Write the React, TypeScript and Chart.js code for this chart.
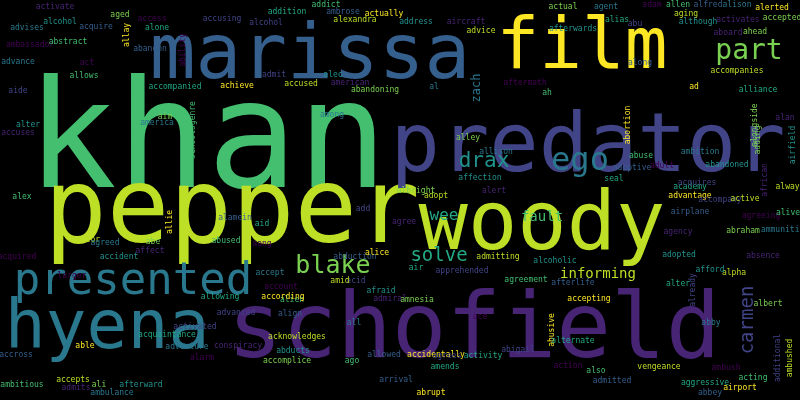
import React, { useEffect, useRef } from "react";
import { Chart, registerables } from "chart.js";
Chart.register(...registerables);

const V = ["#440154","#482475","#414487","#355f8d","#2a788e","#21918c","#22a884","#44bf70","#7ad151","#bddf26","#fde725"];

const words = ["khan","pepper","marissa","film","predator","woody","schofield","hyena","presented","blake","ego","part","drax","solve","carmen","wee","fault","informing","zach",
"activate","aged","alison","access","addict","ambrose","actually","addition","alcohol","alexandra","address","aircraft","actual","agent","adam","allen","alfred","alerted","alias","abu","aging","although","activates","accepted",
"advises","ambassador","abstract","acquire","allay","alone","accusing","advice","afterwards","aboard","ahead","advance","act","allows","abandon","achieve","accompanied","admit","accused","alec","american","abandoning","al","aftermath","ah","along","ad","alliance","aide","accompanies","alter","accuses","aim","america","ability","schoolsgenre",
"abduction","alice","air","acid","amid","afraid","admiral","amnesia","all","ace","agreement","afterlife","accepting","alter","already","alpha","afford","absence","albert","accept","account","alien","align","according","allowing","advanced","acknowledges","abducts","conspiracy","accomplice","adventure","alarm","ago","allowed","accidentally","activity","abigail",
"actor","accident","affect","abe","agreed","acquired","alex","alamein","allie","aid","add","adopt","affection","alert","albright","allison","larger","ambitious","accross","able","acquaintance","activated","accepts","afterward","admits","ali","ambulance","action","also","admitted","abusive","alternate","apprehended","admitting","alcoholic","agency","abraham","ammunition","agreeing","alive","airplane","advantage","academy","accompany","active","abandoned","african","adding","ambition","adult","abuse","adoptive","abortion","seal","acquires","always","airfield","alan","alongside","abby","ambush","acting","abbey","airport","aggressive","additional","ambushed","adopted","agree","alley","among","aang","abused","arrival","abrupt","amends","agrees","vengeance","alcohol2"];
const xs = [207,232,310,582,588,542,474,107,133,333,580,749,484,439,748,444,542,598,477,
55,120,737,152,326,343,384,287,266,355,416,466,563,606,652,678,708,772,617,635,686,698,738,782,
27,30,68,96,127,157,222,481,573,728,755,18,87,84,150,237,175,274,301,333,350,375,434,525,547,640,694,758,18,737,28,18,165,157,183,193,
355,377,416,356,340,381,390,417,354,480,526,573,589,678,693,734,710,763,768,270,281,292,290,283,220,236,297,293,238,287,187,202,352,384,436,483,518,
88,119,150,153,105,17,22,235,170,262,363,436,480,494,416,496,72,22,16,85,167,195,73,141,76,99,112,568,596,612,552,573,462,498,555,678,743,785,761,788,690,690,690,720,745,727,765,758,700,662,641,632,628,614,697,790,793,785,755,711,726,753,710,740,705,778,790,679,404,468,332,262,226,396,431,445,447,659,60];
const ys = [148,215,58,50,150,228,333,330,283,266,162,52,162,256,320,216,217,274,88,
7,15,5,19,5,12,14,12,23,20,22,22,7,7,5,5,5,8,20,24,14,22,20,18,
28,45,42,27,35,28,19,31,29,33,32,62,63,76,49,86,87,75,84,75,83,90,87,83,93,63,87,90,91,71,125,133,117,123,50,130,
257,253,268,281,281,291,299,300,323,317,280,283,299,284,290,273,270,256,304,273,287,300,314,297,297,313,337,351,346,361,347,358,361,355,355,356,350,
240,257,251,242,243,257,197,218,222,224,209,196,178,191,191,152,276,385,355,346,335,327,380,385,388,385,393,366,371,381,330,341,271,257,261,232,231,230,216,213,212,196,187,200,199,165,180,140,152,166,156,168,125,179,183,187,145,118,125,323,368,378,393,388,383,358,358,255,222,138,115,244,241,380,393,367,356,367,22];
const bigSizes = [150,104,76,71,82,82,91,68,44,25,32,28,21,19,19,16,14,14,12];
const smallSize = 8;
const colorIdx = [7,9,3,10,2,9,1,4,4,8,4,8,5,6,2,6,7,9,4];
const rotated = ["zach","carmen","allay","already","abusive","african","adding","abortion","alongside","airfield","additional","ambushed","ability","schoolsgenre","allie"];

export default function App() {
  const ref = useRef<HTMLCanvasElement>(null);
  useEffect(() => {
    document.body.style.margin = "0";
    document.body.style.background = "#000";
    const data = words.map((w, i) => ({ x: xs[i], y: ys[i] }));
    const textPlugin = {
      id: "words",
      beforeDraw(chart: any) {
        const c = chart.ctx;
        c.save(); c.fillStyle = "#000"; c.fillRect(0, 0, chart.width, chart.height); c.restore();
      },
      afterDatasetsDraw(chart: any) {
        const c = chart.ctx;
        const meta = chart.getDatasetMeta(0);
        meta.data.forEach((pt: any, i: number) => {
          const w = words[i];
          const label = w.replace(/2$/, "");
          const col = i < colorIdx.length ? V[colorIdx[i]] : V[(i * 7) % 11];
          const size = i < bigSizes.length ? bigSizes[i] : smallSize;
          c.save();
          c.translate(pt.x, pt.y);
          const rot = i >= 19 ? rotated.includes(w) : w === "zach" || w === "carmen";
          if (rot) c.rotate(-Math.PI / 2);
          c.font = `${size}px "DejaVu Sans Mono"`;
          c.fillStyle = col;
          c.textAlign = "center";
          c.textBaseline = "middle";
          c.fillText(label, 0, 0);
          c.restore();
        });
      },
    };
    const chart = new Chart(ref.current!, {
      type: "scatter",
      data: { datasets: [{ data, pointRadius: 0, pointHoverRadius: 0 }] },
      options: {
        animation: false,
        responsive: false,
        events: [],
        layout: { padding: 0 },
        plugins: { legend: { display: false }, tooltip: { enabled: false } },
        scales: {
          x: { type: "linear", min: 0, max: 800, display: false },
          y: { type: "linear", min: 0, max: 400, reverse: true, display: false },
        },
      },
      plugins: [textPlugin],
    });
    return () => chart.destroy();
  }, []);
  return <canvas ref={ref} width={800} height={400} style={{ display: "block" }} />;
}
